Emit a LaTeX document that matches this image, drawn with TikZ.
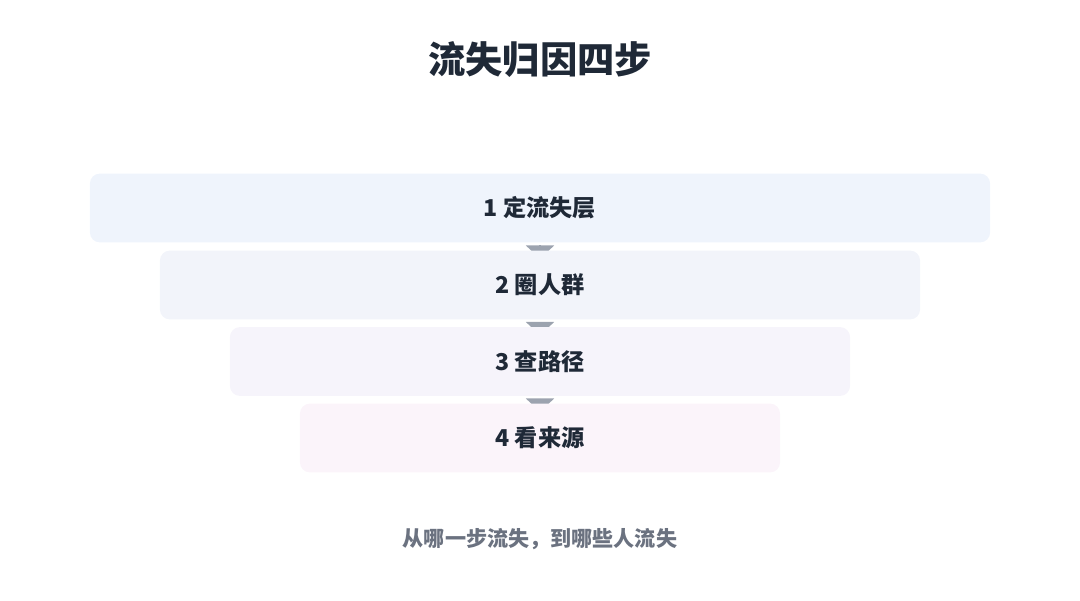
\documentclass[tikz,border=0pt]{standalone}
\usepackage{fontspec}
\setmainfont{Noto Sans CJK SC}
\usepackage{xcolor}
\usetikzlibrary{
    arrows.meta,
    positioning,
    backgrounds
}
\definecolor{inkdark}{HTML}{1F2937}
\definecolor{inkgray}{HTML}{6B7280}
\definecolor{arrowgray}{HTML}{9CA3AF}
\definecolor{stepone}{HTML}{EFF4FC}
\definecolor{steptwo}{HTML}{F2F4FA}
\definecolor{stepthree}{HTML}{F6F4FB}
\definecolor{stepfour}{HTML}{FBF4FA}

\begin{document}
\begin{tikzpicture}[x=0.025cm, y=-0.025cm,
    stepbox/.style={rounded corners=0.25cm, minimum height=1.72cm, inner sep=0pt,
        font=\fontsize{16.5pt}{19pt}\selectfont\bfseries, text=inkdark},
    flow/.style={arrowgray, line width=1.5pt, -{Triangle[width=0.7cm, length=0.35cm]},
        shorten <=0.06cm, shorten >=-0.225cm}
]
                \useasboundingbox (0,0) rectangle (1080,600);

                % Title
                \node[font=\fontsize{26.5pt}{31pt}\selectfont\bfseries, text=inkdark] (title) at (540, 60) {流失归因四步};

                % Funnel steps
                \node[stepbox, fill=stepone, minimum width=22.5cm] (s1) at (540, 208) {1 定流失层};
                \node[stepbox, fill=steptwo, minimum width=19cm] (s2) at (540, 285) {2 圈人群};
                \node[stepbox, fill=stepthree, minimum width=15.5cm] (s3) at (540, 361.5) {3 查路径};
                \node[stepbox, fill=stepfour, minimum width=12cm] (s4) at (540, 438) {4 看来源};

                % Arrows behind the boxes
                \begin{pgfonlayer}{background}
                    \draw[flow] (s1.south) -- (s2.north);
                    \draw[flow] (s2.south) -- (s3.north);
                    \draw[flow] (s3.south) -- (s4.north);
                \end{pgfonlayer}

                % Caption
                \node[font=\fontsize{15pt}{18pt}\selectfont\bfseries, text=inkgray] (caption) at (540, 539) {从哪一步流失，到哪些人流失};
            \end{tikzpicture}
\end{document}
